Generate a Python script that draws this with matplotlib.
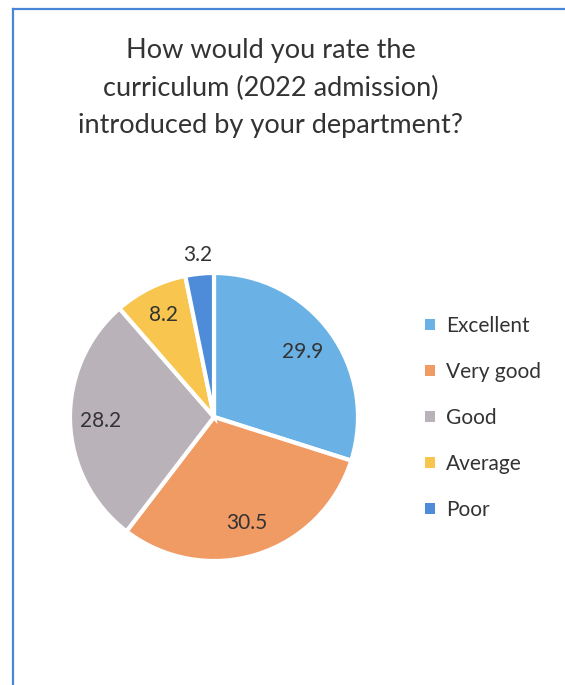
import numpy as np
import matplotlib.pyplot as plt
from matplotlib.lines import Line2D

categories = ['Excellent', 'Very good', 'Good', 'Average', 'Poor']
values = [29.9, 30.5, 28.2, 8.2, 3.2]
colors = ['#6AB2E6', '#F09A64', '#B9B2B8', '#F8C64E', '#4E8CDA']
label_dist = [0.76, 0.77, 0.79, 0.79, 1.13]

plt.rcParams['font.family'] = ['Lato', 'DejaVu Sans']

W, H = 565, 685
fig = plt.figure(figsize=(W / 100, H / 100), dpi=100)
fig.patch.set_facecolor('white')

# frame of the chart area (left and top edges visible in the scan)
fig.add_artist(Line2D([13 / W, 13 / W], [0, 1 - 9 / H], color='#4A86D8', lw=1.6))
fig.add_artist(Line2D([13 / W, 1], [1 - 9 / H, 1 - 9 / H], color='#4A86D8', lw=1.6))

fig.text(271 / W, 1 - 88 / H,
         'How would you rate the\ncurriculum (2022 admission)\nintroduced by your department?',
         ha='center', va='center', fontsize=19.5, color='#333333', linespacing=1.6)

cx, cy, r = 214, 417, 144
ax = fig.add_axes([(cx - r) / W, 1 - (cy + r) / H, 2 * r / W, 2 * r / H])
wedges, _ = ax.pie(values, colors=colors, startangle=90, counterclock=False,
                   wedgeprops=dict(edgecolor='white', linewidth=3))
ax.set_xlim(-1, 1)
ax.set_ylim(-1, 1)
ax.set_aspect('equal')

for w, v, d in zip(wedges, values, label_dist):
    ang = np.deg2rad((w.theta1 + w.theta2) / 2)
    ax.text(d * np.cos(ang), d * np.sin(ang), f'{v:.1f}', ha='center', va='center',
            fontsize=15, color='#333333', clip_on=False)

leg = fig.legend(wedges, categories, loc='center left', bbox_to_anchor=(406 / W, 1 - 418 / H),
                 frameon=False, fontsize=15, handlelength=0.48, handleheight=0.48,
                 handletextpad=0.55, labelspacing=1.25, labelcolor='#333333')
for h in leg.legend_handles:
    h.set_edgecolor('none')

fig.savefig('out.png', dpi=100)
